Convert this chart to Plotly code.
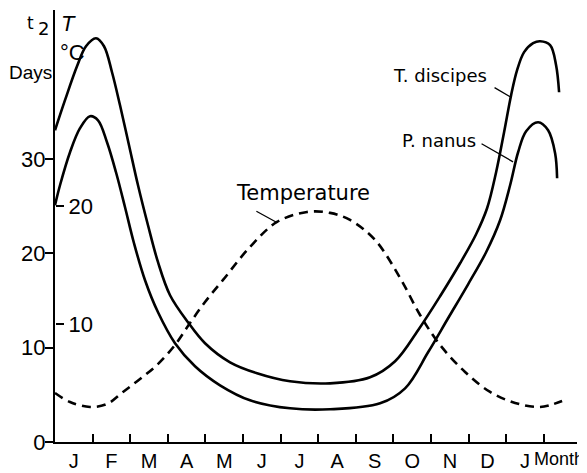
import plotly.graph_objects as go

# ---------------- data ----------------
month_labels = ["J", "F", "M", "A", "M", "J", "J", "A", "S", "O", "N", "D", "J"]
month_centers = [0.5, 1.5, 2.5, 3.5, 4.5, 5.5, 6.5, 7.5, 8.5, 9.5, 10.5, 11.5, 12.5]
month_ticks = [1, 2, 3, 4, 5, 6, 7, 8, 9, 10, 11, 12, 13]

days_ticks = [0, 10, 20, 30]
temp_ticks = [10, 20]

# T. discipes development time t2 (days)
td_month = [0.0, 0.266, 0.585, 0.824, 1.090, 1.303, 1.516, 1.729, 1.968, 2.207, 2.473,
            2.739, 3.059, 3.537, 3.989, 4.654, 5.372, 6.250, 7.314, 8.378, 9.043, 9.654,
            10.239, 10.771, 11.197, 11.489, 11.729, 11.941, 12.128, 12.287, 12.473,
            12.713, 12.899, 13.165, 13.324, 13.404]
td_days = [33.05, 36.24, 39.84, 41.96, 42.81, 41.96, 39.20, 35.70, 31.46, 27.22, 22.98,
           19.06, 15.56, 12.69, 10.47, 8.45, 7.29, 6.44, 6.22, 6.86, 8.56, 11.85,
           15.45, 18.95, 22.03, 24.78, 28.60, 32.84, 36.77, 39.42, 41.33,
           42.28, 42.49, 42.07, 39.95, 37.08]

# P. nanus development time t2 (days)
pn_month = [0.0, 0.133, 0.399, 0.665, 0.931, 1.144, 1.383, 1.622, 1.862, 2.101, 2.394,
            2.739, 3.191, 3.723, 4.388, 5.186, 6.250, 7.314, 8.644, 9.309, 9.920,
            10.452, 10.984, 11.463, 11.835, 12.101, 12.314, 12.527, 12.846, 13.112,
            13.298, 13.351]
pn_days = [25.10, 27.22, 30.72, 33.27, 34.54, 34.11, 31.78, 28.60, 24.89, 21.07, 17.15,
           13.75, 10.47, 8.03, 6.01, 4.42, 3.57, 3.47, 4.10, 5.69, 9.51,
           13.12, 16.72, 20.12, 23.51, 27.22, 30.72, 32.95, 33.90, 33.05,
           30.62, 27.96]

# Temperature (deg C)
temp_month = [0.0, 0.399, 0.931, 1.383, 1.809, 2.261, 2.713, 3.191, 3.590, 3.989, 4.468,
              5.186, 5.904, 6.702, 7.314, 7.846, 8.511, 9.176, 9.707, 10.239, 10.904,
              11.569, 12.234, 12.899, 13.484]
temp_c = [4.15, 3.39, 2.97, 3.22, 4.24, 5.34, 6.53, 8.22, 10.08, 11.86, 13.73,
          16.53, 18.64, 19.49, 19.41, 18.81, 17.12, 13.90, 10.76, 8.22, 5.93,
          4.24, 3.31, 2.97, 3.47]

# ---------------- figure ----------------
SANS = "Liberation Sans, Arial, sans-serif"
WIDE = "DejaVu Sans, sans-serif"
BLACK = "#000000"

fig = go.Figure()

curve_line = dict(color=BLACK, width=2.6, shape="spline", smoothing=1.0)
fig.add_trace(go.Scatter(x=td_month, y=td_days, mode="lines", name="T. discipes",
                         line=curve_line, hoverinfo="skip"))
fig.add_trace(go.Scatter(x=pn_month, y=pn_days, mode="lines", name="P. nanus",
                         line=curve_line, hoverinfo="skip"))
fig.add_trace(go.Scatter(x=temp_month, y=temp_c, mode="lines", name="Temperature",
                         yaxis="y2",
                         line=dict(color=BLACK, width=2.6, dash="9px,6px", shape="spline",
                                   smoothing=1.0),
                         hoverinfo="skip"))

annotations = []

# curve labels
annotations.append(dict(text="T. discipes", x=10.24, y=38.9, xref="x", yref="y",
                        xanchor="center", yanchor="middle", showarrow=False,
                        font=dict(family=WIDE, size=18, color=BLACK)))
annotations.append(dict(text="P. nanus", x=10.21, y=32.0, xref="x", yref="y",
                        xanchor="center", yanchor="middle", showarrow=False,
                        font=dict(family=WIDE, size=18, color=BLACK)))
annotations.append(dict(text="Temperature", x=6.60, y=26.4, xref="x", yref="y",
                        xanchor="center", yanchor="middle", showarrow=False,
                        font=dict(family=WIDE, size=21, color=BLACK)))

# leader lines
for hx, hy, yr, ax, ay in [(12.10, 36.6, "y", -17, -10),
                           (12.18, 29.7, "y", -33, -19),
                           (5.90, 18.6, "y2", -22, -12)]:
    annotations.append(dict(text="", x=hx, y=hy, xref="x", yref=yr, showarrow=True,
                            arrowhead=0, arrowwidth=1.3, arrowcolor=BLACK,
                            ax=ax, ay=ay, standoff=0, startstandoff=0,
                            font=dict(size=1)))

# axis titles
def corner_text(text, dx, dy, size, family=SANS):
    return dict(text=text, xref="paper", yref="paper", x=0, y=1, xshift=dx, yshift=dy,
                xanchor="center", yanchor="middle", showarrow=False,
                font=dict(family=family, size=size, color=BLACK))

annotations += [
    corner_text("t", -25, -13, 17, WIDE),
    corner_text("2", -12, -18, 18, WIDE),
    corner_text("Days", -25, -62, 19),
    corner_text("<i>T</i>", 13, -13, 22),
    corner_text("°C", 17, -42, 22),
    dict(text="Month", xref="x", yref="paper", x=13.4, y=0, yshift=-17,
         xanchor="center", yanchor="middle", showarrow=False,
         font=dict(family=SANS, size=18, color=BLACK)),
]

# The page body adds an 8 px offset; margins compensate so the plot area
# lands where the reference has it.
fig.update_layout(
    width=587, height=473,
    margin=dict(l=47, r=18, t=2, b=39, autoexpand=False),
    paper_bgcolor="white", plot_bgcolor="white",
    showlegend=False,
    annotations=annotations,
    xaxis=dict(range=[0, 13.88], showgrid=False, zeroline=False, automargin=False,
               showline=True, linecolor=BLACK, linewidth=2,
               tickvals=month_centers, ticktext=month_labels, ticks="", ticklen=0,
               tickfont=dict(family=SANS, size=20, color=BLACK),
               minor=dict(tickvals=month_ticks, ticks="inside", ticklen=8,
                          tickwidth=1.6, tickcolor=BLACK),
               fixedrange=True),
    yaxis=dict(range=[0, 45.8], showgrid=False, zeroline=False, automargin=False,
               showline=True, linecolor=BLACK, linewidth=2,
               tickvals=days_ticks, ticks="outside", ticklen=8, tickwidth=1.6,
               tickcolor=BLACK, ticklabelstandoff=-5,
               tickfont=dict(family=SANS, size=22, color=BLACK),
               fixedrange=True),
    yaxis2=dict(range=[0, 36.6], overlaying="y", side="right", anchor="free",
                position=0, automargin=False,
                showgrid=False, zeroline=False, showline=False,
                tickvals=temp_ticks, ticks="outside", ticklen=8, tickwidth=1.6,
                tickcolor=BLACK,
                tickfont=dict(family=SANS, size=22, color=BLACK),
                fixedrange=True),
)

fig.write_html("out.html")
